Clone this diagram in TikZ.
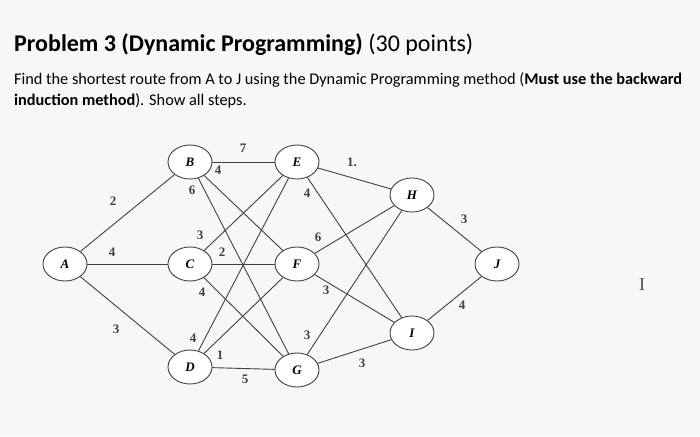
\documentclass[tikz,border=0pt]{standalone}
\usetikzlibrary{shapes.geometric}
\usepackage{fontspec}
\setmainfont{Carlito}
\newfontfamily\gfont{Liberation Serif}
\begin{document}
\begin{tikzpicture}[x=1pt,y=-1pt,
  st/.style={draw=black!75,line width=0.9pt,ellipse,minimum width=44pt,minimum height=34pt,inner sep=0pt,fill=white,font=\gfont\bfseries\itshape\fontsize{13}{14}\selectfont},
  ed/.style={draw=black!75,line width=0.9pt},
  lb/.style={font=\gfont\bfseries\fontsize{13}{14}\selectfont,text=black!75}]
\useasboundingbox[fill=black!3] (0,0) rectangle (700,436);
\node[anchor=base west,font=\fontsize{24}{28}\selectfont,inner sep=0pt] (t) at (14,52) {\textbf{Problem 3 (Dynamic Programming)} (30 points)};
\node[anchor=base west,font=\fontsize{16.3}{18}\selectfont,inner sep=0pt] (l1) at (14,84) {Find the shortest route from A to J using the Dynamic Programming method (\textbf{Must use the backward}};
\node[anchor=base west,font=\fontsize{16.3}{18}\selectfont,inner sep=0pt] (l2) at (14,105) {\textbf{induction method}). Show all steps.};
\foreach \n/\x/\y in {A/65/264,B/190/162,C/190/264,D/190/367,E/297/162,F/297/264,G/297/370,H/412/195,I/412/333,J/497/264}
  \coordinate (p\n) at (\x,\y);
\foreach \n in {A,B,C,D,E,F,G,H,I,J} \node[st] (\n) at (p\n) {\n};
\foreach \a/\b in {A/B,A/C,A/D,B/E,B/F,B/G,C/E,C/F,C/G,D/E,D/F,D/G,E/H,E/I,F/H,F/I,G/H,G/I,H/J,I/J}
  \draw[ed] (\a) -- (\b);
\foreach \t/\x/\y in {2/113/201,4/112/252,3/116/329,7/243/148,4/218/170,6/192/190,3/200/235,2/222/252,4/202/292,4/193/338,1/220/355,5/245/379,4/307/193,1./352/162,6/318/237,3/326/290,3/307/335,3/362/363,3/464/219,4/462/305}
  \node[lb] at (\x,\y) {\t};
\node[font=\gfont\fontsize{18}{20}\selectfont,text=black!70] (cur) at (642,285) {I};
\end{tikzpicture}
\end{document}
